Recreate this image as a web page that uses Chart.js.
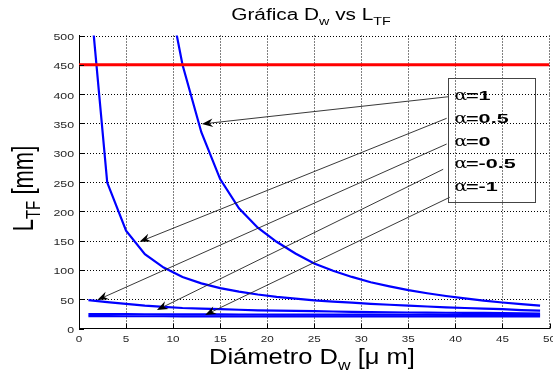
<!DOCTYPE html>
<html>
<head>
<meta charset="utf-8">
<title>Gráfica Dw vs LTF</title>
<script src="https://cdn.jsdelivr.net/npm/chart.js@4.4.0/dist/chart.umd.min.js"></script>
<style>
  html, body { margin: 0; padding: 0; background: #fff; }
  #wrap { width: 553px; height: 377px; }
</style>
</head>
<body>
<div id="wrap"><canvas id="chart" width="553" height="377"></canvas></div>
<script>
// Fibre diameter D_w [µm] at which L_TF was evaluated
const diameters = [1, 3, 5, 7, 9, 11, 13, 15, 17, 19, 21, 23, 25, 27, 29, 31, 33, 35, 37, 39, 41, 43, 45, 47, 49];

// L_TF [mm] for each alpha (null = above the plotted range, not evaluated here)
const lAlpha1   = [null, null, null, null, 615, 450, 335, 255, 205, 172, 148, 128, 111, 98.5, 88, 79, 72, 65.6, 60.2, 55.5, 51.3, 47.6, 44.4, 41.5, 39];
const lAlpha05  = [600, 249, 167, 127, 104, 88, 77, 69, 63, 58, 54, 51, 48, 46, 44, 42, 40.5, 39, 37.5, 36, 35, 34, 33, 31.5, 30.5];
const lAlpha0   = [48.5, 45, 42, 39, 37, 35, 34, 33, 32, 31, 30.5, 30, 29.5, 29, 28.5, 28, 27.5, 27.3, 27.1, 26.9, 26.7, 26.5, 26.2, 25.9, 25.6];
const lAlphaM05 = [24.6, 24.5, 24.4, 24.3, 24.2, 24.1, 24.0, 24.0, 23.9, 23.9, 23.8, 23.8, 23.7, 23.7, 23.6, 23.6, 23.5, 23.5, 23.5, 23.4, 23.4, 23.4, 23.3, 23.3, 23.3];
const lAlphaM1  = [21.0, 21.0, 20.9, 20.9, 20.9, 20.8, 20.8, 20.8, 20.8, 20.7, 20.7, 20.7, 20.7, 20.7, 20.6, 20.6, 20.6, 20.6, 20.6, 20.6, 20.5, 20.5, 20.5, 20.5, 20.5];

// Maximum admissible length
const limitL = 450;

// Legend entries (alpha values)
const alphaLabels = ['1', '0.5', '0', '-0.5', '-1'];

// Axis ticks
const xTicks = [0, 5, 10, 15, 20, 25, 30, 35, 40, 45, 50];
const yTicks = [0, 50, 100, 150, 200, 250, 300, 350, 400, 450, 500];

// Annotation arrows, legend entry -> curve, in data units [D, L]
const arrowTails = [[39.3, 395.6], [39.07, 358.7], [39.07, 314.8], [38.7, 271.7], [39.4, 223.9]];
const arrowTips  = [[13.06, 349], [6.43, 148], [1.94, 48.6], [8.28, 31.6], [13.4, 23]];

// Legend frame, in data units
const legendFrame = { x0: 39.2, x1: 48.45, yTop: 428, yBottom: 216.4 };

const series = [lAlpha1, lAlpha05, lAlpha0, lAlphaM05, lAlphaM1];
const toPoints = arr => diameters.map((d, i) => ({ x: d, y: arr[i] }));

const SANS = "'Liberation Sans', Arial, Helvetica, sans-serif";

function drawRuns(ctx, runs, family, weight, x0, y0, align) {
  let total = 0;
  runs.forEach(r => {
    ctx.font = `${weight} ${r.size}px ${family}`;
    r.w = ctx.measureText(r.t).width;
    total += r.w;
  });
  let x = align === 'center' ? x0 - total / 2 : x0;
  ctx.textAlign = 'left';
  ctx.textBaseline = 'alphabetic';
  runs.forEach(r => {
    ctx.font = `${weight} ${r.size}px ${family}`;
    ctx.fillText(r.t, x, y0 + (r.dy || 0));
    x += r.w;
  });
}

function stretchedText(ctx, runs, px, py, sx, align, rotate, weight) {
  ctx.save();
  ctx.translate(px, py);
  ctx.scale(sx, 1);
  if (rotate) ctx.rotate(-Math.PI / 2);
  drawRuns(ctx, runs, SANS, weight || 'normal', 0, 0, align);
  ctx.restore();
}

function drawArrow(ctx, x0, y0, x1, y1) {
  const ang = Math.atan2(y1 - y0, x1 - x0);
  const len = 11, half = 4.2, notch = 7.5;
  ctx.beginPath();
  ctx.moveTo(x0, y0);
  ctx.lineTo(x1 - notch * Math.cos(ang), y1 - notch * Math.sin(ang));
  ctx.stroke();
  ctx.save();
  ctx.translate(x1, y1);
  ctx.rotate(ang);
  ctx.beginPath();
  ctx.moveTo(0, 0);
  ctx.lineTo(-len, -half);
  ctx.lineTo(-notch, 0);
  ctx.lineTo(-len, half);
  ctx.closePath();
  ctx.fill();
  ctx.restore();
}

function drawGrid(chart) {
  // dotted grid lines at every tick, beneath the curves
  const ctx = chart.ctx;
  const xs = chart.scales.x, ys = chart.scales.y;
  const area = chart.chartArea;
  ctx.save();
  ctx.strokeStyle = '#000000';
  ctx.lineWidth = 1;
  ctx.setLineDash([1, 2]);
  ctx.beginPath();
  for (const v of xTicks) {
    if (v === xTicks[0]) continue;
    const px = Math.min(Math.round(xs.getPixelForValue(v)), Math.round(area.right) - 1) + 0.5;
    ctx.moveTo(px, area.top);
    ctx.lineTo(px, area.bottom);
  }
  for (const v of yTicks) {
    if (v === yTicks[0]) continue;
    const py = Math.round(ys.getPixelForValue(v)) + 0.5;
    ctx.moveTo(area.left + 2, py);
    ctx.lineTo(area.right, py);
  }
  ctx.stroke();
  ctx.restore();
}

const decorations = {
  id: 'decorations',
  beforeDatasetsDraw(chart) {
    drawGrid(chart);
  },
  afterDatasetsDraw(chart) {
    const ctx = chart.ctx;
    const xs = chart.scales.x, ys = chart.scales.y;
    const area = chart.chartArea;

    // inward tick marks
    ctx.save();
    ctx.fillStyle = '#000';
    yTicks.forEach(v => {
      const py = Math.round(ys.getPixelForValue(v));
      ctx.fillRect(area.left, py, 5, 1);
    });
    xTicks.forEach(v => {
      const px = Math.round(xs.getPixelForValue(v));
      ctx.fillRect(px, area.bottom - 5, 1, 5);
    });
    ctx.restore();

    // arrows
    ctx.save();
    ctx.strokeStyle = '#222';
    ctx.fillStyle = '#000';
    ctx.lineWidth = 0.9;
    arrowTails.forEach((t, i) => {
      const tip = arrowTips[i];
      drawArrow(ctx, xs.getPixelForValue(t[0]), ys.getPixelForValue(t[1]),
                xs.getPixelForValue(tip[0]), ys.getPixelForValue(tip[1]));
    });
    ctx.restore();

    // legend frame and entries
    const fx0 = Math.round(xs.getPixelForValue(legendFrame.x0)) + 0.5;
    const fx1 = Math.round(xs.getPixelForValue(legendFrame.x1)) + 0.5;
    const fy0 = Math.round(ys.getPixelForValue(legendFrame.yTop)) + 0.5;
    const fy1 = Math.round(ys.getPixelForValue(legendFrame.yBottom)) + 0.5;
    ctx.save();
    ctx.strokeStyle = '#444';
    ctx.lineWidth = 1;
    ctx.strokeRect(fx0, fy0, fx1 - fx0, fy1 - fy0);
    const step = (fy1 - fy0 - 33) / (alphaLabels.length - 1);
    ctx.fillStyle = '#000';
    alphaLabels.forEach((lab, i) => {
      const base = fy0 + 16.5 + i * step + 5;
      ctx.save();
      ctx.translate(fx0 + 6, base);
      ctx.scale(1.35, 1);
      ctx.font = "14px 'DejaVu Serif', serif";
      ctx.textAlign = 'left';
      ctx.textBaseline = 'alphabetic';
      ctx.fillText('α', 0, 0);
      ctx.restore();
      ctx.save();
      ctx.translate(fx0 + 17.5, base);
      ctx.scale(1.6, 1);
      ctx.font = `bold 13.5px ${SANS}`;
      ctx.textAlign = 'left';
      ctx.fillText('=' + lab, 0, 0);
      ctx.restore();
    });
    ctx.restore();
  },
  afterDraw(chart) {
    const ctx = chart.ctx;
    const xs = chart.scales.x, ys = chart.scales.y;
    const area = chart.chartArea;
    ctx.save();
    ctx.fillStyle = '#262626';

    // tick labels
    yTicks.forEach(v => {
      const py = ys.getPixelForValue(v);
      ctx.save();
      ctx.translate(area.left - 5, py + 4.5);
      ctx.scale(1.3, 1);
      ctx.font = `9.5px ${SANS}`;
      ctx.textAlign = 'right';
      ctx.fillText(String(v), 0, 0);
      ctx.restore();
    });
    xTicks.forEach(v => {
      const px = xs.getPixelForValue(v);
      ctx.save();
      ctx.translate(px, area.bottom + 13.5);
      ctx.scale(1.3, 1);
      ctx.font = `9px ${SANS}`;
      ctx.textAlign = 'center';
      ctx.fillText(String(v), 0, 0);
      ctx.restore();
    });

    ctx.fillStyle = '#000';
    // title
    stretchedText(ctx, [
      { t: 'Gráfica D', size: 16 },
      { t: 'w', size: 11, dy: 5 },
      { t: ' vs L', size: 16 },
      { t: 'TF', size: 11, dy: 5 }
    ], 311, 20, 1.3, 'center', false);

    // x axis title
    stretchedText(ctx, [
      { t: 'Diámetro D', size: 22 },
      { t: 'w', size: 15, dy: 6 },
      { t: ' [μ m]', size: 22 }
    ], 209, 364, 1.16, 'left', false);

    // y axis title
    stretchedText(ctx, [
      { t: 'L', size: 22 },
      { t: 'TF', size: 15, dy: 5 },
      { t: ' [mm]', size: 22 }
    ], 33, 188.5, 1.35, 'center', true);

    ctx.restore();
  }
};

const datasets = [
  {
    label: 'L max',
    data: [{ x: 0, y: limitL }, { x: 50, y: limitL }],
    borderColor: '#ff0000',
    borderWidth: 3,
    pointRadius: 0
  }
].concat(series.map((s, i) => ({
  label: 'alpha=' + alphaLabels[i],
  data: toPoints(s),
  borderColor: '#0000ff',
  borderWidth: 2.2,
  pointRadius: 0,
  tension: 0,
  spanGaps: false
})));

new Chart(document.getElementById('chart'), {
  type: 'line',
  data: { datasets },
  options: {
    responsive: false,
    animation: false,
    events: [],
    layout: { padding: { left: 79, right: 3.5, top: 35.5, bottom: 48.5 } },
    plugins: { legend: { display: false }, tooltip: { enabled: false }, title: { display: false } },
    scales: {
      x: {
        type: 'linear', min: 0, max: 50,
        ticks: { display: false, stepSize: 5 },
        grid: { display: false, drawTicks: false },
        border: { display: true, color: '#000', width: 1 }
      },
      y: {
        type: 'linear', min: 0, max: 500,
        ticks: { display: false, stepSize: 50 },
        grid: { display: false, drawTicks: false },
        border: { display: true, color: '#000', width: 1 }
      }
    }
  },
  plugins: [decorations]
});
</script>
</body>
</html>
